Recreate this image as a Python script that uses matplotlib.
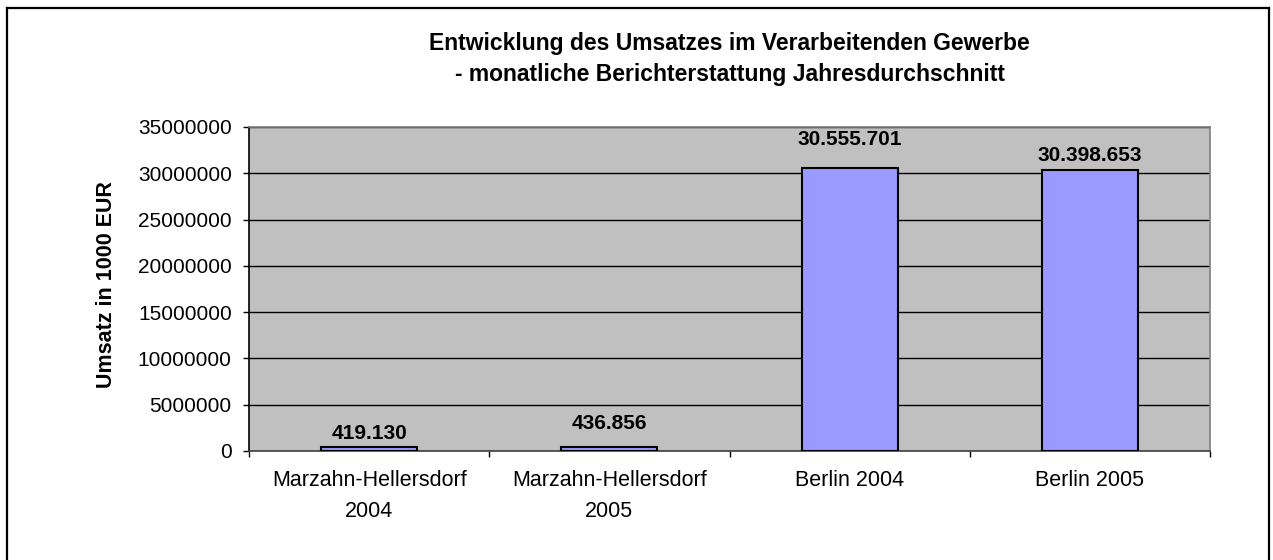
import matplotlib
matplotlib.use("Agg")
import matplotlib.pyplot as plt
from matplotlib.lines import Line2D
from matplotlib.ticker import FixedLocator, FuncFormatter, MultipleLocator

plt.rcParams['font.family'] = ['Liberation Sans', 'DejaVu Sans']

categories = ["Marzahn-Hellersdorf\n2004", "Marzahn-Hellersdorf\n2005", "Berlin 2004", "Berlin 2005"]
values = [419130, 436856, 30555701, 30398653]
value_labels = ["419.130", "436.856", "30.555.701", "30.398.653"]
label_offsets_px = [8, 18, 23, 9]

title_line1 = "Entwicklung des Umsatzes im Verarbeitenden Gewerbe"
title_line2 = "- monatliche Berichterstattung Jahresdurchschnitt"
y_label = "Umsatz in 1000 EUR"

W, H = 1273, 560
fig = plt.figure(figsize=(W / 100, H / 100), dpi=100)
fig.patch.set_facecolor('white')

# outer chart frame (bottom edge lies outside the picture)
fx0, fx1, fy_top = 7 / W, 1269 / W, 1 - 7.5 / H
for xs, ys in [([fx0, fx0], [-0.05, fy_top]), ([fx0, fx1], [fy_top, fy_top]), ([fx1, fx1], [fy_top, -0.05])]:
    fig.add_artist(Line2D(xs, ys, transform=fig.transFigure, color='black', lw=1.6))

ax = fig.add_axes([249 / W, (H - 451) / H, 961 / W, 324 / H])
ax.set_facecolor('#C0C0C0')

x = list(range(len(categories)))
ax.bar(x, values, width=0.4, color='#9999FF', edgecolor='black', linewidth=1.5, zorder=3)

ax.set_xlim(-0.5, len(categories) - 0.5)
ax.set_ylim(0, 35000000)
ax.yaxis.set_major_locator(MultipleLocator(5000000))
ax.yaxis.set_major_formatter(FuncFormatter(lambda v, p: f"{int(round(v))}"))
ax.grid(axis='y', color='black', linewidth=1, zorder=1)
ax.set_axisbelow(True)

ax.set_xticks(x)
ax.set_xticklabels(categories, fontsize=15.5, linespacing=1.6)
ax.xaxis.set_minor_locator(FixedLocator([i - 0.5 for i in range(len(categories) + 1)]))
ax.tick_params(axis='x', which='major', length=0, pad=14)
ax.tick_params(axis='x', which='minor', length=4.5, width=1, color='black', direction='out')
ax.tick_params(axis='y', which='major', length=4.5, width=1, pad=8, labelsize=15, color='black')

ax.spines['top'].set_color('#808080')
ax.spines['right'].set_color('#808080')
ax.spines['left'].set_color('black')
ax.spines['bottom'].set_color('#404040')
for s in ax.spines.values():
    s.set_linewidth(1.2)

for xi, v, lab, off in zip(x, values, value_labels, label_offsets_px):
    ax.annotate(lab, xy=(xi, v), xytext=(0, off), textcoords='offset pixels',
                ha='center', va='baseline', fontsize=15, fontweight='bold', zorder=4)

cx = (249 + 961 / 2) / W
fig.text(cx, 1 - 50 / H, title_line1, ha='center', va='baseline', fontsize=16.5, fontweight='bold')
fig.text(cx, 1 - 81 / H, title_line2, ha='center', va='baseline', fontsize=16.5, fontweight='bold')

fig.text(107 / W, 1 - 285 / H, y_label, rotation=90, ha='center', va='center',
         fontsize=15.5, fontweight='bold')

fig.savefig('out.png', dpi=100)
